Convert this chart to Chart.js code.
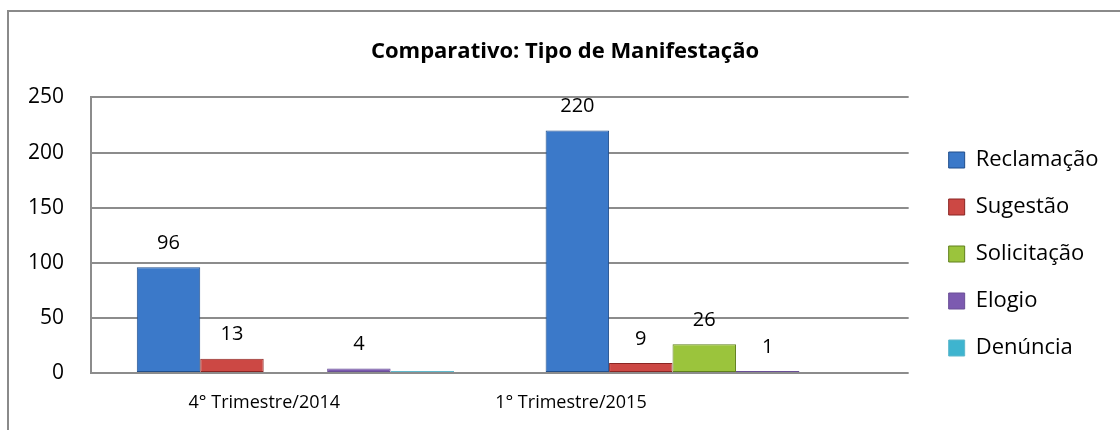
<!DOCTYPE html>
<html>
<head>
<meta charset="utf-8">
<script src="https://cdn.jsdelivr.net/npm/chart.js@4.4.1/dist/chart.umd.min.js"></script>
<style>
  html, body { margin: 0; padding: 0; background: #fff; }
  #wrap { width: 1120px; height: 430px; position: relative; }
</style>
</head>
<body>
<div id="wrap"><canvas id="chart"></canvas></div>
<script>
const categories = ['4° Trimestre/2014', '1° Trimestre/2015'];
const reclamacao = [96, 220];
const sugestao = [13, 9];
const solicitacao = [null, 26];
const elogio = [4, 1];
const denuncia = [0, null];
const yTicks = [0, 50, 100, 150, 200, 250];

const FONT = '"Open Sans", "Noto Sans", sans-serif';

// base, light, dark for the bevel look
const palette = {
    blue:   ['#3b79c9', '#7fb0ea', '#214f8c'],
    red:    ['#cc4844', '#ee8a86', '#8a2522'],
    green:  ['#9bc43c', '#cfe88a', '#60801c'],
    purple: ['#7c5ab0', '#ab90d6', '#6a4f96'],
    teal:   ['#3eb4cf', '#86d8ea', '#5fb8cc']
};
const dsColors = [palette.blue, palette.red, palette.green, palette.purple, palette.teal];

function bevel(c) {
    return (ctx) => {
        const el = ctx.element;
        if (!el || !isFinite(el.x) || !el.width) return c[0];
        const g = ctx.chart.ctx.createLinearGradient(el.x - el.width / 2, 0, el.x + el.width / 2, 0);
        g.addColorStop(0, c[2]);
        g.addColorStop(0.1, c[1]);
        g.addColorStop(0.35, c[0]);
        g.addColorStop(0.85, c[0]);
        g.addColorStop(1, c[2]);
        return g;
    };
}

function ds(label, data, c) {
    return {
        label: label,
        data: data,
        backgroundColor: bevel(c),
        borderColor: c[2],
        borderWidth: 1,
        borderSkipped: false,
        minBarLength: 2,
        categoryPercentage: 0.776,
        barPercentage: 1.0
    };
}

// label slots for the bottom axis (labels sit left of the bar groups in the original)
const slotLabels = ['', categories[0], '', '', categories[1], '', '', ''];

const frame = {
    id: 'frame',
    beforeDraw(chart) {
        const c = chart.ctx;
        c.save();
        c.strokeStyle = '#8a8a8a';
        c.lineWidth = 2;
        c.beginPath();
        c.moveTo(8, chart.height);
        c.lineTo(8, 11);
        c.lineTo(chart.width, 11);
        c.stroke();
        c.restore();
    }
};

const valueLabels = {
    id: 'valueLabels',
    afterDatasetsDraw(chart) {
        const c = chart.ctx;
        c.save();
        c.font = '20px ' + FONT;
        c.fillStyle = '#000';
        c.textAlign = 'center';
        c.textBaseline = 'middle';
        chart.data.datasets.forEach((d, i) => {
            chart.getDatasetMeta(i).data.forEach((bar, j) => {
                const v = d.data[j];
                if (v === null || v === 0) return;
                c.fillText(String(v), bar.x, bar.y - 24);
            });
        });
        c.restore();
    }
};

new Chart(document.getElementById('chart'), {
    type: 'bar',
    data: {
        labels: categories,
        datasets: [
            ds('Reclamação', reclamacao, palette.blue),
            ds('Sugestão', sugestao, palette.red),
            ds('Solicitação', solicitacao, palette.green),
            ds('Elogio', elogio, palette.purple),
            ds('Denúncia', denuncia, palette.teal)
        ]
    },
    options: {
        responsive: true,
        maintainAspectRatio: false,
        animation: false,
        layout: { padding: { left: 27, right: 17, bottom: 0 } },
        plugins: {
            title: {
                display: true,
                text: 'Comparativo: Tipo de Manifestação',
                color: '#000',
                font: { family: FONT, size: 22, weight: 'bold' },
                padding: { top: 39, bottom: 32 }
            },
            legend: {
                position: 'right',
                align: 'start',
                title: { display: true, text: '', font: { size: 10 }, padding: { top: 112, bottom: 0 } },
                labels: {
                    color: '#000',
                    font: { family: FONT, size: 22 },
                    boxWidth: 16,
                    boxHeight: 16,
                    padding: 25,
                    generateLabels: (chart) => {
                        const items = Chart.defaults.plugins.legend.labels.generateLabels(chart);
                        items.forEach((it, i) => {
                            it.fillStyle = dsColors[i][0];
                            it.strokeStyle = dsColors[i][2];
                            it.lineWidth = 1;
                        });
                        return items;
                    }
                }
            },
            tooltip: { enabled: false }
        },
        scales: {
            x: { display: false },
            x2: {
                type: 'category',
                labels: slotLabels,
                position: 'bottom',
                offset: true,
                grid: { display: false, drawTicks: false },
                border: { display: false },
                afterFit: (s) => { s.height = 57; },
                ticks: {
                    color: '#000',
                    font: { family: FONT, size: 18 },
                    padding: 19,
                    autoSkip: false,
                    maxRotation: 0,
                    labelOffset: 20
                }
            },
            y: {
                min: 0,
                max: 250,
                afterBuildTicks: (s) => { s.ticks = yTicks.map(v => ({ value: v })); },
                afterFit: (s) => { s.width = 64; },
                grid: { color: '#8c8c8c', lineWidth: 2, drawTicks: false },
                border: { display: true, color: '#8c8c8c', width: 2 },
                ticks: {
                    color: '#000',
                    font: { family: FONT, size: 21 },
                    padding: 27
                }
            },
            gap: {
                position: 'right',
                grid: { display: false },
                border: { display: false },
                ticks: { display: false },
                afterFit: (s) => { s.width = 15; }
            }
        }
    },
    plugins: [frame, valueLabels]
});
</script>
</body>
</html>
